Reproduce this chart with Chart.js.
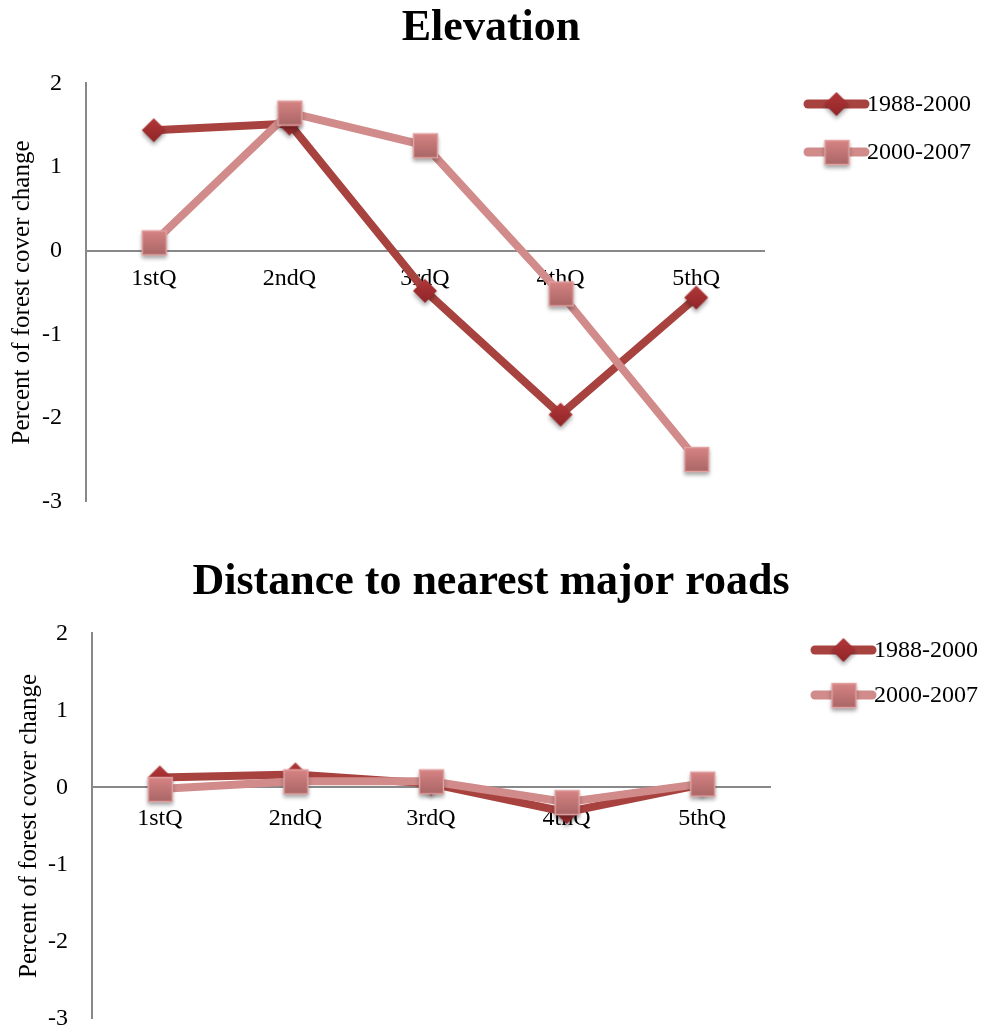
<!DOCTYPE html>
<html>
<head>
<meta charset="utf-8">
<script src="https://cdn.jsdelivr.net/npm/chart.js@4/dist/chart.umd.min.js"></script>
<style>
  html, body { margin: 0; padding: 0; background: #fff; overflow: hidden; }
  #wrap { position: relative; width: 982px; height: 1028px; overflow: hidden; }
  .box { position: absolute; left: 0; width: 982px; }
</style>
</head>
<body>
<div id="wrap">
  <div class="box" style="top:0;height:540px"><canvas id="elevChart"></canvas></div>
  <div class="box" style="top:525px;height:532px"><canvas id="roadChart"></canvas></div>
</div>
<script>
// quartile classes
var quartiles = ["1stQ", "2ndQ", "3rdQ", "4thQ", "5thQ"];
var periods = ["1988-2000", "2000-2007"];
var yTicks = [2, 1, 0, -1, -2, -3];

// Elevation: percent of forest cover change
var elev1988 = [1.44, 1.52, -0.48, -1.96, -0.56];
var elev2000 = [0.10, 1.65, 1.26, -0.51, -2.49];

// Distance to nearest major roads
var road1988 = [0.13, 0.17, 0.05, -0.32, 0.04];
var road2000 = [-0.02, 0.08, 0.08, -0.19, 0.05];

var serif = "'Liberation Serif', 'Times New Roman', serif";
var darkLine = "#A8423F";
var pinkLine = "#D08B8A";

// small canvases used as point markers (gradient fill + soft shadow)
function makeMarker(shape) {
    var c = document.createElement("canvas");
    c.width = 44; c.height = 44;
    var g = c.getContext("2d");
    g.shadowColor = "rgba(0,0,0,0.35)";
    g.shadowBlur = 4;
    g.shadowOffsetY = 3;
    var grad = g.createLinearGradient(0, 9, 0, 35);
    if (shape === "diamond") {
        grad.addColorStop(0, "#B3383A");
        grad.addColorStop(1, "#8E2427");
        g.fillStyle = grad;
        g.beginPath();
        g.moveTo(22, 10); g.lineTo(34, 22); g.lineTo(22, 34); g.lineTo(10, 22);
        g.closePath();
        g.fill();
    } else {
        grad.addColorStop(0, "#D98585");
        grad.addColorStop(1, "#A96565");
        g.fillStyle = grad;
        g.fillRect(10, 10, 25, 25);
        g.shadowColor = "transparent";
        g.strokeStyle = "#E2A2A2";
        g.lineWidth = 1.5;
        g.strokeRect(10.5, 10.5, 24, 24);
    }
    return c;
}
var diamond = makeMarker("diamond");
var square = makeMarker("square");

// legend: line sample with marker, then the label
var lineLegend = {
    id: "lineLegend",
    afterDraw: function (chart, args, opts) {
        var ctx = chart.ctx;
        var items = [
            { text: periods[0], color: darkLine, mark: diamond },
            { text: periods[1], color: pinkLine, mark: square }
        ];
        ctx.save();
        items.forEach(function (it, i) {
            var y = opts.y + i * opts.gap;
            ctx.strokeStyle = it.color;
            ctx.lineWidth = 9;
            ctx.lineCap = "round";
            ctx.beginPath();
            ctx.moveTo(opts.x, y);
            ctx.lineTo(opts.x + 57, y);
            ctx.stroke();
            ctx.drawImage(it.mark, opts.x + 28.5 - 22, y - 22);
            ctx.fillStyle = "#000";
            ctx.font = "24px " + serif;
            ctx.textBaseline = "middle";
            ctx.fillText(it.text, opts.x + 59, y + 1);
        });
        ctx.restore();
    }
};

function buildChart(id, title, s1, s2, geo) {
    return new Chart(document.getElementById(id), {
        type: "line",
        data: {
            labels: quartiles,
            datasets: [
                {
                    label: periods[0],
                    data: s1,
                    borderColor: darkLine,
                    borderWidth: 8,
                    pointStyle: diamond,
                    order: 2
                },
                {
                    label: periods[1],
                    data: s2,
                    borderColor: pinkLine,
                    borderWidth: 8,
                    pointStyle: square,
                    order: 1
                }
            ]
        },
        options: {
            responsive: true,
            maintainAspectRatio: false,
            animation: false,
            events: [],
            layout: { padding: 0 },
            plugins: {
                legend: { display: false },
                tooltip: { enabled: false },
                title: {
                    display: true,
                    text: title,
                    color: "#000",
                    font: { family: serif, size: 44, weight: "bold", lineHeight: 1.1 },
                    padding: geo.titlePad
                },
                lineLegend: geo.legend
            },
            scales: {
                x: {
                    position: { y: 0 },
                    offset: true,
                    grid: { display: false, drawTicks: false },
                    border: { color: "#888", width: 2 },
                    ticks: { color: "#000", font: { family: serif, size: 24 }, padding: geo.xPad }
                },
                y: {
                    min: -3,
                    max: 2,
                    afterBuildTicks: function (scale) {
                        scale.ticks = yTicks.map(function (v) { return { value: v }; });
                    },
                    afterFit: function (scale) { scale.width = geo.axisLeft; },
                    grid: { display: false, drawTicks: false },
                    border: { color: "#888", width: 2 },
                    ticks: { color: "#000", font: { family: serif, size: 24 }, padding: 24 },
                    title: {
                        display: true,
                        text: "Percent of forest cover change",
                        color: "#000",
                        font: { family: serif, size: 25 },
                        padding: { top: geo.yTitlePad, bottom: 0 }
                    }
                },
                // empty space on the right for the legend
                legendSpace: {
                    type: "linear",
                    position: "right",
                    min: 0,
                    max: 1,
                    afterFit: function (scale) { scale.width = geo.rightSpace; },
                    grid: { display: false, drawTicks: false },
                    border: { display: false },
                    ticks: { display: false }
                }
            }
        },
        plugins: [lineLegend]
    });
}

buildChart("elevChart", "Elevation", elev1988, elev2000, {
    titlePad: { top: 4, bottom: 31 },
    axisLeft: 86,
    rightSpace: 218,
    xPad: 14,
    yTitlePad: 7,
    legend: { x: 808, y: 104, gap: 48 }
});

buildChart("roadChart", "Distance to nearest major roads", road1988, road2000, {
    titlePad: { top: 33, bottom: 27 },
    axisLeft: 92,
    rightSpace: 212,
    xPad: 17,
    yTitlePad: 14,
    legend: { x: 815, y: 125, gap: 45 }
});
</script>
</body>
</html>
